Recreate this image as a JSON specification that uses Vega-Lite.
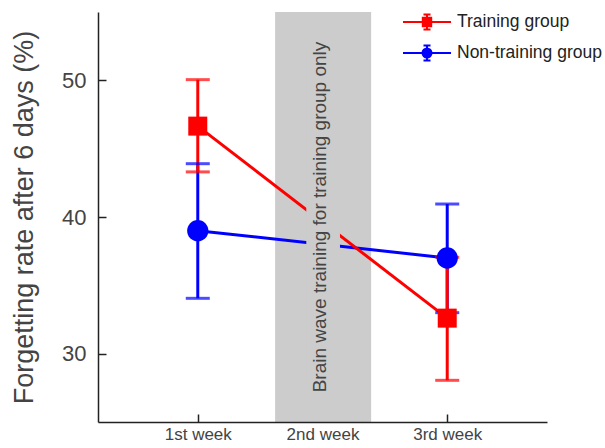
{
  "$schema": "https://vega.github.io/schema/vega-lite/v6.json",
  "width": 449,
  "height": 410,
  "autosize": {"type": "none"},
  "padding": {"left": 98, "top": 12, "right": 58, "bottom": 26},
  "background": "white",
  "config": {
    "view": {"stroke": null},
    "font": "Liberation Sans",
    "axis": {
      "grid": false,
      "domainColor": "#222",
      "domainWidth": 1.5,
      "tickColor": "#222",
      "tickWidth": 1.5,
      "tickSize": -8,
      "labelColor": "#444",
      "titleColor": "#444",
      "titleFontWeight": "normal",
      "labelFont": "Liberation Sans",
      "titleFont": "Liberation Sans"
    },
    "legend": {"symbolOpacity": 1}
  },
  "data": {
    "values": [
      {"group": "Non-training group", "week": 1, "value": 39.0, "lo": 34.05, "hi": 43.9},
      {"group": "Non-training group", "week": 3, "value": 37.0, "lo": 33.0, "hi": 40.95},
      {"group": "Training group", "week": 1, "value": 46.65, "lo": 43.3, "hi": 50.05},
      {"group": "Training group", "week": 3, "value": 32.6, "lo": 28.05, "hi": 37.05}
    ]
  },
  "layer": [
    {
      "data": {"values": [{}]},
      "mark": {"type": "rect", "color": "#cccccc"},
      "encoding": {
        "x": {"datum": 1.62, "type": "quantitative", "scale": {"domain": [0.2, 3.8], "nice": false, "zero": false},
          "axis": {"values": [1, 2, 3], "title": null, "labelFontSize": 17, "labelPadding": 12, "zindex": 1,
            "labelExpr": "datum.value == 1 ? '1st week' : datum.value == 2 ? '2nd week' : '3rd week'",
            "tickColor": {"condition": {"test": "datum.value == 2", "value": "transparent"}, "value": "#222"}}},
        "x2": {"datum": 2.39},
        "y": {"datum": 25.0, "type": "quantitative", "scale": {"domain": [25, 55], "nice": false, "zero": false},
          "axis": {"values": [30, 40, 50], "title": "Forgetting rate after 6 days (%)", "titleFontSize": 27, "labelFontSize": 22, "labelPadding": 20, "titlePadding": 23, "zindex": 1}},
        "y2": {"datum": 55}
      }
    },
    {
      "mark": {"type": "line", "strokeWidth": 3},
      "encoding": {
        "x": {"field": "week", "type": "quantitative"},
        "y": {"field": "value", "type": "quantitative"},
        "color": {"field": "group", "type": "nominal", "legend": null,
          "scale": {"domain": ["Non-training group", "Training group"], "range": ["#0000ff", "#ff0000"]}}
      }
    },
    {
      "data": {"values": [{}]},
      "mark": {"type": "rect", "color": "#cccccc"},
      "encoding": {
        "x": {"datum": 1.87, "type": "quantitative"},
        "x2": {"datum": 2.14},
        "y": {"datum": 27.5, "type": "quantitative"},
        "y2": {"datum": 52.5}
      }
    },
    {
      "data": {"values": [{}]},
      "mark": {"type": "text", "text": "Brain wave training for training group only", "angle": 270, "fontSize": 19, "color": "#444", "align": "center", "baseline": "middle", "font": "Liberation Sans"},
      "encoding": {
        "x": {"datum": 1.98, "type": "quantitative"},
        "y": {"datum": 40, "type": "quantitative"}
      }
    },
    {
      "mark": {"type": "rule", "strokeWidth": 3},
      "encoding": {
        "x": {"field": "week", "type": "quantitative"},
        "y": {"field": "lo", "type": "quantitative"},
        "y2": {"field": "hi"},
        "color": {"field": "group", "type": "nominal", "legend": null}
      }
    },
    {
      "mark": {"type": "tick", "orient": "horizontal", "size": 24, "thickness": 3},
      "encoding": {
        "x": {"field": "week", "type": "quantitative"},
        "y": {"field": "lo", "type": "quantitative"},
        "color": {"field": "group", "type": "nominal", "legend": null}
      }
    },
    {
      "mark": {"type": "tick", "orient": "horizontal", "size": 24, "thickness": 3},
      "encoding": {
        "x": {"field": "week", "type": "quantitative"},
        "y": {"field": "hi", "type": "quantitative"},
        "color": {"field": "group", "type": "nominal", "legend": null}
      }
    },
    {
      "mark": {"type": "point", "filled": true, "opacity": 1},
      "encoding": {
        "x": {"field": "week", "type": "quantitative"},
        "y": {"field": "value", "type": "quantitative"},
        "color": {"field": "group", "type": "nominal", "legend": null},
        "shape": {"condition": {"test": "datum.group == 'Training group'", "value": "square"}, "value": "circle"},
        "size": {"condition": {"test": "datum.group == 'Training group'", "value": 361}, "value": 452}
      }
    },
    {
      "mark": {"type": "point", "opacity": 0, "strokeWidth": 2},
      "encoding": {
        "x": {"field": "week", "type": "quantitative"},
        "y": {"field": "value", "type": "quantitative"},
        "fill": {"field": "group", "type": "nominal",
          "scale": {"domain": ["Training group", "Non-training group"], "range": ["#ff0000", "#0000ff"]}},
        "stroke": {"field": "group", "type": "nominal",
          "scale": {"domain": ["Training group", "Non-training group"], "range": ["#ff0000", "#0000ff"]}},
        "shape": {"field": "group", "type": "nominal",
          "scale": {"domain": ["Training group", "Non-training group"],
            "range": [
              "M-2.4,0H2.4M-0.42,-0.42H0.42V0.42H-0.42ZM0,-0.75V0.75M-0.35,-0.75H0.35M-0.35,0.75H0.35",
              "M-2.4,0H2.4M-0.45,0A0.45,0.45,0,1,0,0.45,0A0.45,0.45,0,1,0,-0.45,0ZM0,-0.75V0.75M-0.35,-0.75H0.35M-0.35,0.75H0.35"
            ]},
          "legend": {"title": null, "orient": "none", "legendX": 318, "legendY": -1,
            "labelFontSize": 17.5, "labelColor": "#222", "labelFont": "Liberation Sans",
            "symbolSize": 400, "symbolStrokeWidth": 2, "labelOffset": 19, "rowPadding": 7}}
      }
    }
  ]
}
